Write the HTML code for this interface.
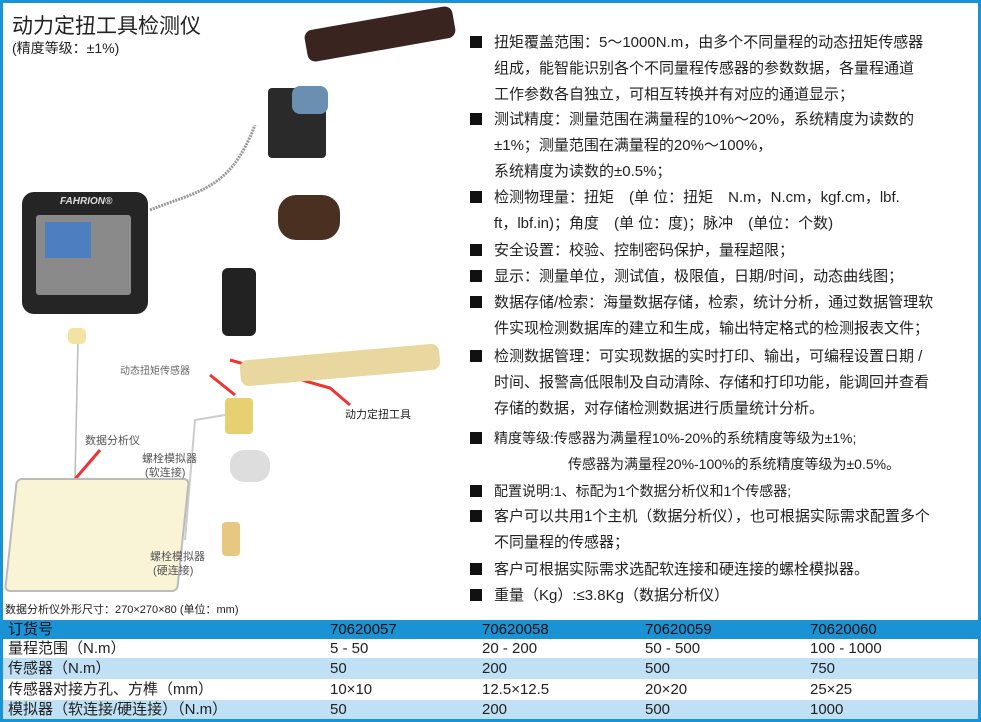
<!DOCTYPE html><html><head><meta charset="utf-8"><style>
body{margin:0;width:981px;height:722px;overflow:hidden;background:#fff;font-family:"Liberation Sans","Noto Sans CJK SC",sans-serif;position:relative}
.frame{position:absolute;left:0;top:0;width:975px;height:716px;border:3px solid #1a93d6;}
.t{position:absolute;white-space:nowrap;color:#222}
.r{position:absolute;left:470px;font-size:15px;color:#222;white-space:nowrap;line-height:26px}
.b{display:inline-block;width:12px;height:12px;background:#111;margin-right:12px;vertical-align:-1px}
.row{position:absolute;left:3px;width:975px;font-size:15px;color:#222}
.row span{position:absolute;top:0}
</style></head><body>
<div class="frame"></div>
<div class="t" style="left:12px;top:10px;font-size:21px">动力定扭工具检测仪</div>
<div class="t" style="left:12px;top:38px;font-size:14px">(精度等级：±1%)</div>
<div style="position:absolute;left:305px;top:18px;width:150px;height:32px;background:#3a2420;border-radius:8px;transform:rotate(-10deg)"></div>
<div style="position:absolute;left:268px;top:88px;width:58px;height:70px;background:#2a2a2a;border-radius:4px"></div>
<div style="position:absolute;left:292px;top:86px;width:36px;height:28px;background:#6a8fb0;border-radius:8px"></div>
<div style="position:absolute;left:278px;top:195px;width:62px;height:45px;background:#4a3020;border-radius:18px"></div>
<div style="position:absolute;left:222px;top:268px;width:34px;height:68px;background:#222;border-radius:6px"></div>
<div style="position:absolute;left:22px;top:192px;width:126px;height:122px;background:#252525;border-radius:12px"></div>
<div style="position:absolute;left:36px;top:215px;width:95px;height:80px;background:#8a8a8a;border-radius:3px"></div>
<div style="position:absolute;left:45px;top:222px;width:46px;height:36px;background:#4d7ec0"></div>
<div class="t" style="left:60px;top:196px;font-size:10px;color:#ddd;font-style:italic;font-weight:bold">FAHRION®</div>
<svg style="position:absolute;left:0;top:0" width="981" height="722">
<path d="M150 210 C200 190 230 190 255 125" stroke="#999" stroke-width="3" fill="none" stroke-dasharray="2 1"/>
<path d="M78 340 L75 480" stroke="#bbb" stroke-width="1.5" fill="none"/>
<path d="M185 540 L195 420 L225 415" stroke="#ccc" stroke-width="2" fill="none"/>
<path d="M210 375 L235 395" stroke="#e33" stroke-width="3"/>
<path d="M230 360 L330 388 L350 405" stroke="#e33" stroke-width="3" fill="none"/>
<path d="M100 450 L70 485" stroke="#e33" stroke-width="3"/>
</svg>
<div style="position:absolute;left:68px;top:328px;width:18px;height:16px;background:#f4e2a0;border-radius:5px"></div>
<div style="position:absolute;left:240px;top:352px;width:200px;height:26px;background:#e8d8a0;border-radius:8px;transform:rotate(-5deg)"></div>
<div style="position:absolute;left:225px;top:398px;width:28px;height:36px;background:#e6d070;border-radius:4px"></div>
<div style="position:absolute;left:230px;top:450px;width:40px;height:32px;background:#ddd;border-radius:14px"></div>
<div style="position:absolute;left:222px;top:522px;width:18px;height:34px;background:#e8c880;border-radius:4px"></div>
<div style="position:absolute;left:10px;top:478px;width:170px;height:110px;background:#faf4d6;border:2px solid #bbb;border-radius:6px;transform:skewX(-6deg)"></div>
<div class="t" style="left:120px;top:362px;font-size:10px;color:#666">动态扭矩传感器</div>
<div class="t" style="left:345px;top:406px;font-size:11px">动力定扭工具</div>
<div class="t" style="left:85px;top:432px;font-size:11px;color:#555">数据分析仪</div>
<div class="t" style="left:142px;top:452px;font-size:11px;color:#555;line-height:14px">螺栓模拟器<br>&nbsp;(软连接)</div>
<div class="t" style="left:150px;top:550px;font-size:11px;color:#555;line-height:14px">螺栓模拟器<br>&nbsp;(硬连接)</div>
<div class="t" style="left:5px;top:601px;font-size:11px">数据分析仪外形尺寸：270×270×80 (单位：mm)</div>
<div class="r" style="top:30px"><span class="b"></span>扭矩覆盖范围：5～1000N.m，由多个不同量程的动态扭矩传感器<br><span style="margin-left:24px">组成，能智能识别各个不同量程传感器的参数数据，各量程通道</span><br><span style="margin-left:24px">工作参数各自独立，可相互转换并有对应的通道显示；</span></div>
<div class="r" style="top:107px"><span class="b"></span>测试精度：测量范围在满量程的10%～20%，系统精度为读数的<br><span style="margin-left:24px">±1%；测量范围在满量程的20%～100%，</span><br><span style="margin-left:24px">系统精度为读数的±0.5%；</span></div>
<div class="r" style="top:185px"><span class="b"></span>检测物理量：扭矩　(单 位：扭矩　N.m，N.cm，kgf.cm，lbf.<br><span style="margin-left:24px">ft，lbf.in)；角度　(单 位：度)；脉冲　(单位：个数)</span></div>
<div class="r" style="top:238px"><span class="b"></span>安全设置：校验、控制密码保护，量程超限；</div>
<div class="r" style="top:264px"><span class="b"></span>显示：测量单位，测试值，极限值，日期/时间，动态曲线图；</div>
<div class="r" style="top:290px"><span class="b"></span>数据存储/检索：海量数据存储，检索，统计分析，通过数据管理软<br><span style="margin-left:24px">件实现检测数据库的建立和生成，输出特定格式的检测报表文件；</span></div>
<div class="r" style="top:344px"><span class="b"></span>检测数据管理：可实现数据的实时打印、输出，可编程设置日期 /<br><span style="margin-left:24px">时间、报警高低限制及自动清除、存储和打印功能，能调回并查看</span><br><span style="margin-left:24px">存储的数据，对存储检测数据进行质量统计分析。</span></div>
<div class="r" style="top:425px;font-size:14px"><span class="b"></span>精度等级:传感器为满量程10%-20%的系统精度等级为±1%;<br><span style="margin-left:98px">传感器为满量程20%-100%的系统精度等级为±0.5%。</span></div>
<div class="r" style="top:478px;font-size:14px"><span class="b"></span>配置说明:1、标配为1个数据分析仪和1个传感器;</div>
<div class="r" style="top:504px"><span class="b"></span>客户可以共用1个主机（数据分析仪），也可根据实际需求配置多个<br><span style="margin-left:24px">不同量程的传感器；</span></div>
<div class="r" style="top:557px"><span class="b"></span>客户可根据实际需求选配软连接和硬连接的螺栓模拟器。</div>
<div class="r" style="top:583px"><span class="b"></span>重量（Kg）:≤3.8Kg（数据分析仪）</div>
<div class="row" style="top:620px;height:19px;line-height:19px;background:#1a93d6;color:#111"><span style="left:5px">订货号</span><span style="left:327px">70620057</span><span style="left:479px">70620058</span><span style="left:642px">70620059</span><span style="left:807px">70620060</span></div>
<div class="row" style="top:639px;height:19px;line-height:19px"><span style="left:5px">量程范围（N.m）</span><span style="left:327px">5 - 50</span><span style="left:479px">20 - 200</span><span style="left:642px">50 - 500</span><span style="left:807px">100 - 1000</span></div>
<div class="row" style="top:658px;height:21px;line-height:21px;background:#bfe0f5"><span style="left:5px">传感器（N.m）</span><span style="left:327px">50</span><span style="left:479px">200</span><span style="left:642px">500</span><span style="left:807px">750</span></div>
<div class="row" style="top:679px;height:21px;line-height:21px"><span style="left:5px">传感器对接方孔、方榫（mm）</span><span style="left:327px">10×10</span><span style="left:479px">12.5×12.5</span><span style="left:642px">20×20</span><span style="left:807px">25×25</span></div>
<div class="row" style="top:700px;height:19px;line-height:19px;background:#bfe0f5"><span style="left:5px">模拟器（软连接/硬连接）（N.m）</span><span style="left:327px">50</span><span style="left:479px">200</span><span style="left:642px">500</span><span style="left:807px">1000</span></div>
</body></html>
